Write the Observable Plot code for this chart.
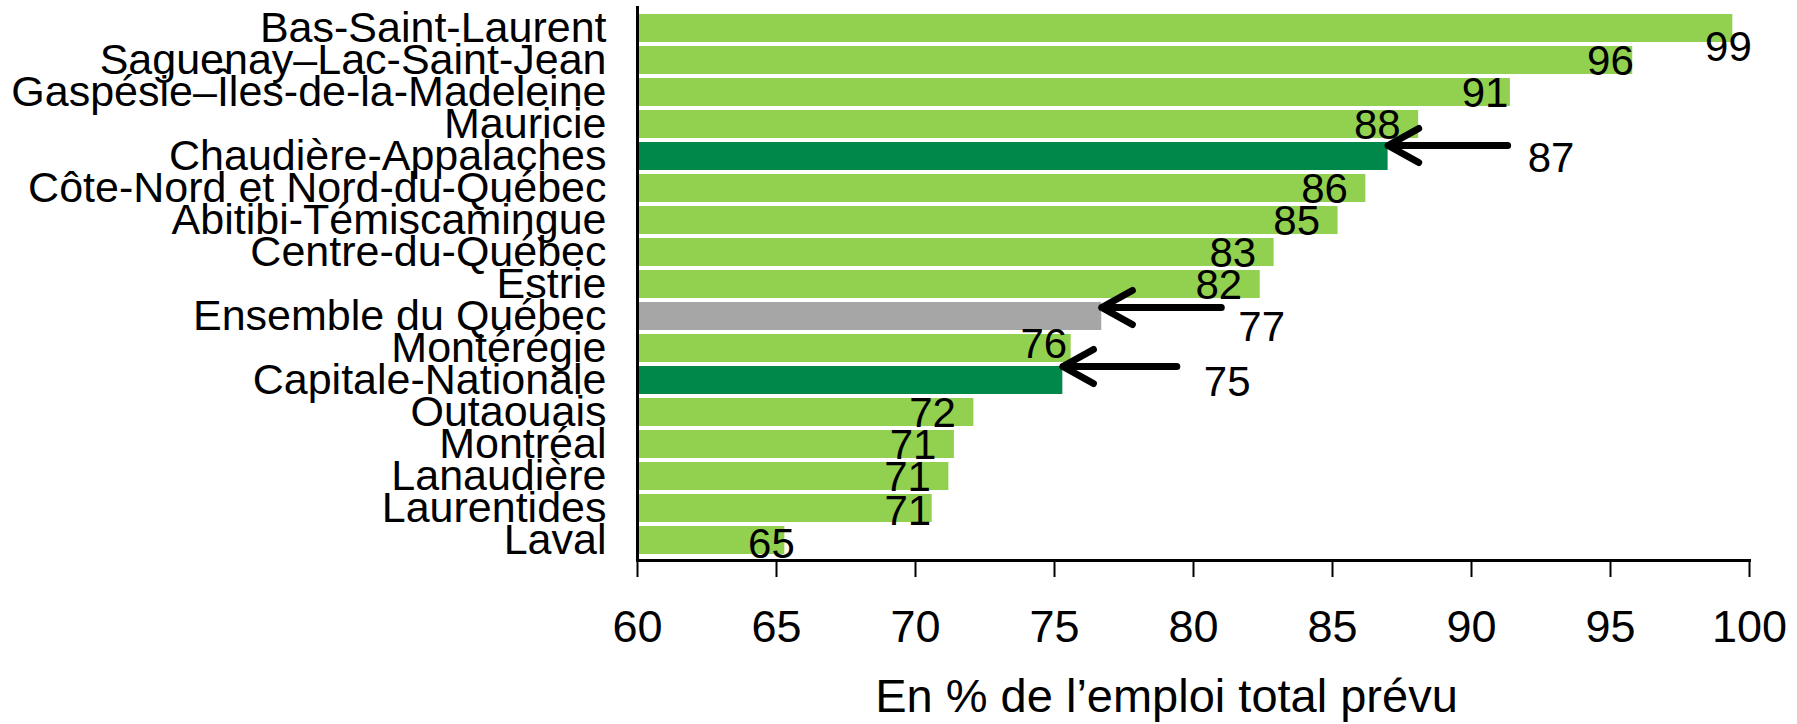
<!DOCTYPE html>
<html>
<head>
<meta charset="utf-8">
<script src="https://cdn.jsdelivr.net/npm/d3@7"></script>
<script src="https://cdn.jsdelivr.net/npm/@observablehq/plot@0.6"></script>
<style>
  html, body { margin: 0; padding: 0; background: #ffffff; }
  #chart svg { display: block; }
</style>
</head>
<body>
<div id="chart"></div>
<script>
// ---- Data ----
const regions = [
  "Bas-Saint-Laurent",
  "Saguenay–Lac-Saint-Jean",
  "Gaspésie–Îles-de-la-Madeleine",
  "Mauricie",
  "Chaudière-Appalaches",
  "Côte-Nord et Nord-du-Québec",
  "Abitibi-Témiscamingue",
  "Centre-du-Québec",
  "Estrie",
  "Ensemble du Québec",
  "Montérégie",
  "Capitale-Nationale",
  "Outaouais",
  "Montréal",
  "Lanaudière",
  "Laurentides",
  "Laval"
];
const values = [99.4, 95.8, 91.4, 88.1, 87.0, 86.2, 85.2, 82.9, 82.4, 76.7, 75.6, 75.3, 72.1, 71.4, 71.2, 70.6, 65.3];
const groups = ["autre", "autre", "autre", "autre", "cible", "autre", "autre", "autre", "autre", "total", "autre", "cible", "autre", "autre", "autre", "autre", "autre"];
const xTicks = [60, 65, 70, 75, 80, 85, 90, 95, 100];
const xTitle = "En % de l’emploi total prévu";

// Annotated bars (arrows pointing at bar ends)
const arrowRegions = ["Chaudière-Appalaches", "Ensemble du Québec", "Capitale-Nationale"];
const arrowTails = [91.3, 81.0, 79.4];

// ---- Styling (not data) ----
const colors = {autre: "#92D050", cible: "#00884B", total: "#A6A6A6"};
const font = "'Liberation Sans', Arial, sans-serif";
const labelNudge = {
  "Bas-Saint-Laurent": [19, 19],
  "Saguenay–Lac-Saint-Jean": [1, 1],
  "Gaspésie–Îles-de-la-Madeleine": [-2, 1],
  "Montérégie": [-4, -4],
  "Laurentides": [-1, 3],
  "Laval": [10, 4]
};
const arrowStyle = {
  "Chaudière-Appalaches": {dy: -11, tdx: 20, tdy: 2},
  "Ensemble du Québec": {dy: -9, tdx: 17, tdy: 11},
  "Capitale-Nationale": {dy: -14, tdx: 27, tdy: 2}
};

const data = regions.map((r, i) => ({region: r, value: values[i], group: groups[i]}));
const arrows = arrowRegions.map((r, i) => ({region: r, from: arrowTails[i], to: values[regions.indexOf(r)], label: d3.format(".0f")(values[regions.indexOf(r)])}));
const valueLabelData = data.filter(d => !arrowRegions.includes(d.region));

const marks = [
  Plot.barX(data, {
    x1: d => 60,
    x2: "value",
    y: "region",
    fill: d => colors[d.group]
  }),
  ...valueLabelData.map(d => {
    const n = labelNudge[d.region] || [-18, 1];
    return Plot.text([d], {
      x: "value",
      y: "region",
      text: v => d3.format(".0f")(v.value),
      textAnchor: "end",
      dx: n[0],
      dy: n[1],
      fontSize: 42,
      fill: "black"
    });
  }),
  ...arrows.map(a => {
    const s = arrowStyle[a.region];
    return Plot.arrow([a], {
      x1: "from",
      x2: "to",
      y1: "region",
      y2: "region",
      dy: s.dy,
      stroke: "black",
      strokeWidth: 7,
      strokeLinecap: "round",
      strokeLinejoin: "round",
      headLength: 7.5,
      headAngle: 58,
      insetStart: 0,
      insetEnd: 0
    });
  }),
  ...arrows.map(a => {
    const s = arrowStyle[a.region];
    return Plot.text([a], {
      x: "from",
      y: "region",
      text: "label",
      textAnchor: "start",
      dx: s.tdx,
      dy: s.tdy,
      fontSize: 42,
      fill: "black"
    });
  }),
  Plot.frame({anchor: "left", stroke: "black", strokeWidth: 3}),
  Plot.frame({anchor: "bottom", stroke: "black", strokeWidth: 3}),
  Plot.axisX({
    ticks: xTicks,
    tickSize: 17,
    tickPadding: 33,
    tickFormat: d3.format("d"),
    fontSize: 45,
    stroke: "black",
    strokeWidth: 2,
    fill: "black",
    label: null
  }),
  Plot.axisY({
    tickSize: 0,
    tickPadding: 31,
    fontSize: 43,
    fill: "black",
    label: null
  }),
  Plot.text([xTitle], {
    frameAnchor: "bottom",
    lineAnchor: "middle",
    text: d => d,
    dx: -27,
    dy: 136,
    fontSize: 47,
    fill: "black"
  })
];

const chart = Plot.plot({
  width: 1797,
  height: 724,
  marginLeft: 637,
  marginRight: 48,
  marginTop: 7,
  marginBottom: 164,
  style: {fontFamily: font, background: "#ffffff", color: "black", overflow: "visible"},
  x: {domain: [60, 100], label: null},
  y: {domain: regions, paddingInner: 0.13, paddingOuter: 0.065, label: null},
  marks
});
document.getElementById("chart").appendChild(chart);
</script>
</body>
</html>
